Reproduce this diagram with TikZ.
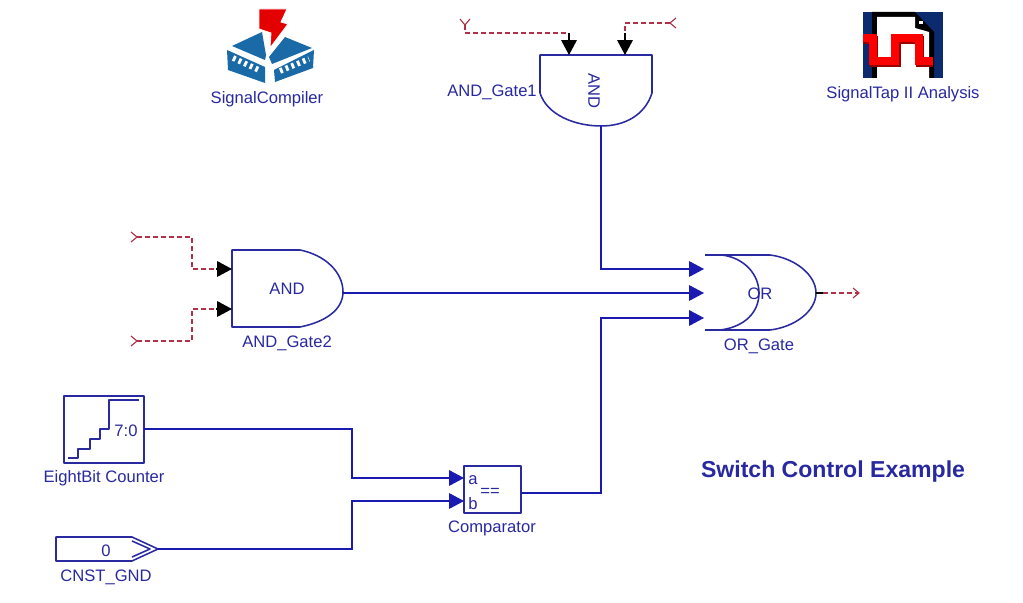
\documentclass[tikz,border=0pt]{standalone}
\usepackage{fontspec}
\setmainfont{Liberation Sans}
\usetikzlibrary{arrows.meta}
\definecolor{wireblue}{HTML}{1A1AB0}
\definecolor{gateblue}{HTML}{2A2AA0}
\definecolor{textblue}{HTML}{2828A0}
\definecolor{stubred}{HTML}{B03048}
\definecolor{iconblue}{HTML}{1A6AA8}
\definecolor{tapnavy}{HTML}{0C2A6E}

\begin{document}
\begin{tikzpicture}[
    x=0.025cm, y=-0.025cm,
    gate/.style={draw=gateblue, line width=1.1pt, line join=round},
    box/.style={gate, inner sep=0pt},
    gtext/.style={font=\fontsize{11.8}{12}\selectfont, text=textblue, inner sep=0pt, yshift=-0.7pt},
    title/.style={font=\fontsize{16.4}{18}\bfseries\selectfont, text=textblue, inner sep=0pt},
    wire/.style={draw=wireblue, line width=0.8pt},
    warr/.style={wire, -{Triangle[length=10.5pt, width=11pt]}},
    pinarr/.style={draw=black, line width=0.8pt, -{Triangle[length=10.5pt, width=11pt]}},
    stub/.style={draw=stubred, line width=0.8pt, dash pattern=on 3.5pt off 2.2pt},
    fork/.pic={\draw[stubred, line width=0.8pt] (-6,-5) -- (0,0) -- (-6,5);},
]
\useasboundingbox (0,0) rectangle (1023,603);

% ── Icons ──
\fill[iconblue] (232,46) -- (262,32) -- (266,55) -- (265,60) -- cycle;
\fill[iconblue] (269,57) -- (285,37) -- (312,48) -- (272,64) -- cycle;
\fill[iconblue] (227,50) -- (265,67) -- (265,83) -- (228,70) -- cycle;
\fill[iconblue] (274,70) -- (314,50) -- (313,68) -- (275,82) -- cycle;
\fill[red!90!black, draw=white, line width=0.6pt] (259,9) -- (287,9) -- (281,22) -- (288,24) -- (270,48) -- (271,33) -- (259,29) -- cycle;
\draw[white, line width=4pt, dash pattern=on 2pt off 2.4pt] (233,58) -- (261,71);
\draw[white, line width=4pt, dash pattern=on 2pt off 2.4pt] (280,71) -- (309,59);

\fill[tapnavy] (863,12) rectangle (943,78);
\fill[black] (872,12) -- (915,12) -- (934,32) -- (934,78) -- (872,78) -- cycle;
\fill[white] (877,17) -- (915,17) -- (915,28) -- (929,32) -- (929,78) -- (877,78) -- cycle;
\fill[white] (919,21) rectangle (923,24);
\draw[red!60!black, line width=5.6pt, line join=miter] (863,40) -- (874,40) -- (874,63) -- (897,63) -- (897,40) -- (920,40) -- (920,63) -- (933,63);
\draw[red, line width=5.2pt, line join=miter] (863,38) -- (873,38) -- (873,61) -- (895,61) -- (895,38) -- (919,38) -- (919,61) -- (933,61);

\node[gtext] (SigComp) at (267,98) {SignalCompiler};
\node[gtext] (SigTap) at (903,93) {SignalTap II Analysis};

% ── Gates ──
\draw[gate] (540,55) -- (652,55) -- (652,93) .. controls (645,115) and (625,126) .. (601,126)
    .. controls (575,126) and (547,115) .. (540,93) -- cycle;
\node[gtext, rotate=-90] (And1) at (594,90) {AND};
\node[gtext, anchor=east] (And1lbl) at (537,91) {AND\_Gate1};

\draw[gate] (232,250) -- (300,250) .. controls (325,255) and (343,272) .. (343,292)
    .. controls (343,310) and (325,322) .. (300,327) -- (232,327) -- cycle;
\node[gtext] (And2) at (287,288) {AND};
\node[gtext] (And2lbl) at (287,342) {AND\_Gate2};

\draw[gate] (705,255) -- (770,255) .. controls (795,258) and (816,275) .. (816,293)
    .. controls (816,311) and (795,327) .. (770,330) -- (705,330);
\draw[gate] (722,255) .. controls (745,258) and (759,275) .. (759,293)
    .. controls (759,312) and (745,327) .. (720,330);
\node[gtext] (Or) at (760,293) {OR};
\node[gtext] (Orlbl) at (759,345) {OR\_Gate};

% ── Counter, constant, comparator ──
\node[box, minimum width=80*0.711pt, minimum height=67*0.711pt] (Counter) at (104,429.5) {};
\draw[gate, line width=0.8pt] (68,458) -- (78,458) -- (78,449) -- (90,449) -- (90,439) -- (100,439)
    -- (100,429) -- (109,429) -- (109,400) -- (139,400);
\node[gtext] (Counterval) at (126,430) {7:0};
\node[gtext] (Counterlbl) at (104,477) {EightBit Counter};

\draw[gate] (56,537) -- (132,537) -- (158,549) -- (132,561) -- (56,561) -- cycle;
\draw[gate] (132,541) -- (150,549) -- (132,557);
\node[gtext] (Cnst) at (106,550) {0};
\node[gtext] (Cnstlbl) at (106,576) {CNST\_GND};

\node[box, minimum width=57*0.711pt, minimum height=47*0.711pt] (Cmp) at (492.5,489.5) {};
\node[gtext] (Cmpa) at (473,479) {a};
\node[gtext] (Cmpb) at (473,503) {b};
\node[gtext] (Cmpeq) at (490,491) {==};
\node[gtext] (Cmplbl) at (492,527) {Comparator};

\node[title] (Title) at (833,471.5) {Switch Control Example};

% ── Ports ──
\coordinate (And1a) at (569,55);
\coordinate (And1b) at (625,55);
\coordinate (And1y) at (601,126);
\coordinate (And2a) at (232,269);
\coordinate (And2b) at (232,309);
\coordinate (And2y) at (343,293);
\coordinate (Ora) at (704,269);
\coordinate (Orb) at (704,293);
\coordinate (Orc) at (704,318);
\coordinate (Ory) at (816,293);
\coordinate (Cnty) at (144,429);
\coordinate (Cnsty) at (158,549);
\coordinate (Cmpia) at (464,478);
\coordinate (Cmpib) at (464,501);
\coordinate (Cmpy) at (521,493);

% ── Free stub ends ──
\coordinate (S1) at (465,25);
\coordinate (S2) at (670,23);
\coordinate (S3) at (137,237);
\coordinate (S4) at (137,341);
\coordinate (S5) at (859,293);
\coordinate (P1) at (569,33);
\coordinate (P2) at (625,33);
\coordinate (P3) at (216,269);
\coordinate (P4) at (216,309);
\coordinate (Oryb) at (823,293);

\pic[rotate=-90] at (S1) {fork};
\pic[rotate=180] at (S2) {fork};
\pic at (S3) {fork};
\pic at (S4) {fork};
\pic at (S5) {fork};

% ── Red stubs ──
\draw[stub] (S1) |- (P1);
\draw[stub] (S2) -| (P2);
\draw[stub] (S3) -- (192,237) |- (P3);
\draw[stub] (S4) -- (192,341) |- (P4);
\draw[stub] (Oryb) -- (S5);

% ── Pins ──
\draw[pinarr] (P1) -- (And1a);
\draw[pinarr] (P2) -- (And1b);
\draw[pinarr] (P3) -- (And2a);
\draw[pinarr] (P4) -- (And2b);
\draw[draw=black, line width=0.8pt] (Ory) -- (Oryb);

% ── Blue wires ──
\draw[warr] (And1y) |- (Ora);
\draw[warr] (And2y) -- (Orb);
\draw[warr] (Cmpy) -- (601,493) |- (Orc);
\draw[warr] (Cnty) -- (352,429) |- (Cmpia);
\draw[warr] (Cnsty) -- (352,549) |- (Cmpib);

\end{tikzpicture}
\end{document}
